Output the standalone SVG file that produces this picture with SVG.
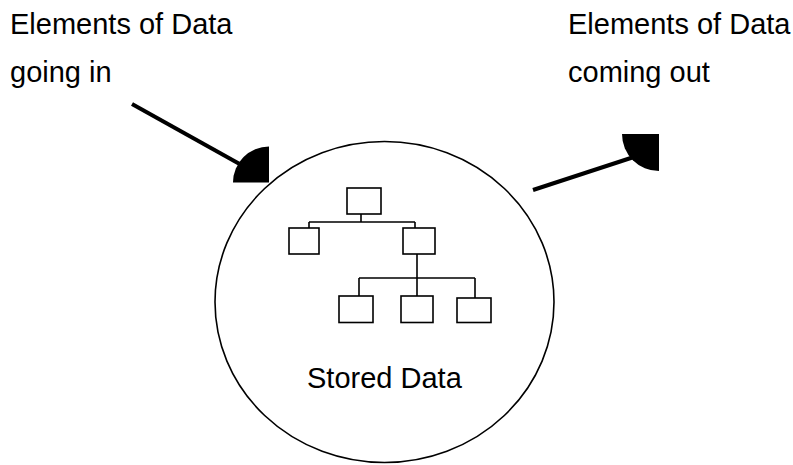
<svg xmlns="http://www.w3.org/2000/svg" width="793" height="465" viewBox="0 0 793 465">
<style>
text{font-family:"Liberation Sans",Arial,sans-serif;font-size:29px;fill:#000}
.box{fill:#fff;stroke:#000;stroke-width:1.6}
.ln{fill:none;stroke:#000;stroke-width:1.6}
.arr{stroke:#000;stroke-width:4;fill:none}
.pie{fill:#000;stroke:none}
</style>
<rect width="793" height="465" fill="#fff"/>
<g id="label-in">
<text x="10" y="34">Elements of Data</text>
<text x="10" y="82">going in</text>
</g>
<g id="label-out">
<text x="568" y="34">Elements of Data</text>
<text x="568" y="82">coming out</text>
</g>
<g id="store">
<ellipse cx="384.5" cy="302" rx="169.5" ry="160.5" fill="#fff" stroke="#000" stroke-width="1.6"/>
<text x="307" y="388">Stored Data</text>
</g>
<g id="tree">
<path class="ln" d="M361 214V222M309 222H415M309 222V228M415 222V228M417 254V278M359 278H475M359 278V296M417 278V296M475 278V298"/>
<rect class="box" x="347" y="188" width="34" height="26"/>
<rect class="box" x="289" y="228" width="30" height="26"/>
<rect class="box" x="403" y="228" width="32" height="26"/>
<rect class="box" x="339" y="296" width="34" height="26.5"/>
<rect class="box" x="401" y="296" width="32" height="26.5"/>
<rect class="box" x="457" y="298" width="34" height="24.5"/>
</g>
<g id="connectors">
<line class="arr" x1="132" y1="104" x2="245" y2="167"/>
<path class="pie" d="M269 182.5H233A36 36 0 0 1 269 146.5Z"/>
<line class="arr" x1="533" y1="190" x2="640" y2="155"/>
<path class="pie" d="M659 134H622A37 37 0 0 0 659 171Z"/>
</g>
</svg>
